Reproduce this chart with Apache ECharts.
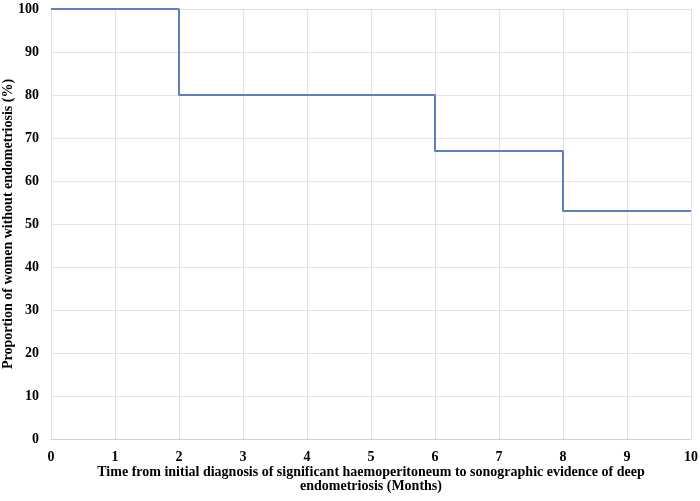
<!DOCTYPE html>
<html><head><meta charset="utf-8">
<script src="https://cdn.jsdelivr.net/npm/echarts@6/dist/echarts.min.js"></script>
<style>html,body{margin:0;padding:0;background:#fff}#c{width:700px;height:501px}</style>
</head><body><div id="c"></div>
<script>
const months = [0, 2, 6, 8, 10];
const proportion = [100, 80, 67, 53, 53];
const font = '"Liberation Serif","Times New Roman",serif';
const chart = echarts.init(document.getElementById('c'));
chart.setOption({
  animation:false,
  grid:{left:51,right:9,top:9,bottom:62,containLabel:false,outerBoundsMode:'none'},
  xAxis:{type:'value',min:0,max:10,interval:1,
    name:'Time from initial diagnosis of significant haemoperitoneum to sonographic evidence of deep\nendometriosis (Months)',
    nameLocation:'middle',nameGap:26,nameMoveOverlap:false,
    nameTextStyle:{fontFamily:font,fontWeight:'bold',fontSize:14,color:'#000',lineHeight:14,verticalAlign:'top'},
    axisLine:{show:true,lineStyle:{color:'#d0d0d0'}},axisTick:{show:false},
    axisLabel:{fontFamily:font,fontWeight:'bold',fontSize:14,color:'#000',margin:11},
    splitLine:{show:true,lineStyle:{color:'#e3e3e3',width:1}}},
  yAxis:{type:'value',min:0,max:100,interval:10,
    name:'Proportion of women without endometriosis (%)',
    nameLocation:'middle',nameGap:36,nameMoveOverlap:false,
    nameTextStyle:{fontFamily:font,fontWeight:'bold',fontSize:14,color:'#000'},
    axisLine:{show:false},axisTick:{show:false},
    axisLabel:{fontFamily:font,fontWeight:'bold',fontSize:14,color:'#000',margin:12},
    splitLine:{show:true,lineStyle:{color:'#e3e3e3',width:1}}},
  series:[{type:'line',step:'end',symbol:'none',
    data:months.map((m,i)=>[m,proportion[i]]),
    lineStyle:{color:'#5b80bd',width:2}}]
});
</script></body></html>
